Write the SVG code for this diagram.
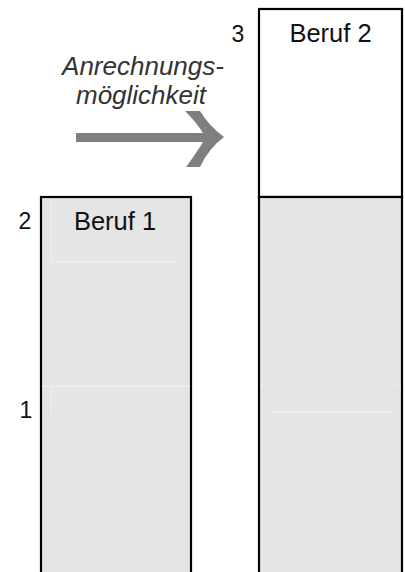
<svg xmlns="http://www.w3.org/2000/svg" width="405" height="572" viewBox="0 0 405 572">
<style>
.box{stroke:#000;stroke-width:2.2}
.gray{fill:#e5e5e5}
.white{fill:#fff}
.lbl{font-family:"Liberation Sans",Arial,sans-serif;font-size:25.5px;fill:#111;text-anchor:middle}
.num{font-family:"Liberation Sans",Arial,sans-serif;font-size:23px;fill:#111;text-anchor:middle}
.it{font-family:"Liberation Sans",Arial,sans-serif;font-size:26px;font-style:italic;fill:#333;text-anchor:middle}
.faint{stroke:#efefef;stroke-width:1;fill:none}
</style>
<rect width="405" height="572" fill="#fff"/>
<g id="beruf1">
<rect class="box gray" x="41" y="197" width="150" height="390"/>
<path class="faint" d="M51,200 V262 H180 M42,386 H190 M51,386 V415"/>
<text class="lbl" x="115" y="230">Beruf 1</text>
</g>
<g id="beruf2">
<rect class="box white" x="259" y="9" width="143" height="188"/>
<rect class="box gray" x="259" y="197" width="143" height="390"/>
<path class="faint" d="M260,386 H268 M393,386 H401 M268,412 H393"/>
<text class="lbl" x="330.5" y="42">Beruf 2</text>
</g>
<g id="scale">
<text class="num" x="238" y="42">3</text>
<text class="num" x="25" y="229">2</text>
<text class="num" x="26" y="418">1</text>
</g>
<g id="label">
<text class="it" x="143" y="75">Anrechnungs-</text>
<text class="it" x="141" y="104">möglichkeit</text>
</g>
<g id="connectors">
<path fill="#7f7f7f" d="M185,111 L200,111 Q209,126 224,137 Q209,148 200,167 L186,167 Q197,152 203,142 L76,142 L76,133 L203,133 Q197,123 185,111 Z"/>
</g>
</svg>
